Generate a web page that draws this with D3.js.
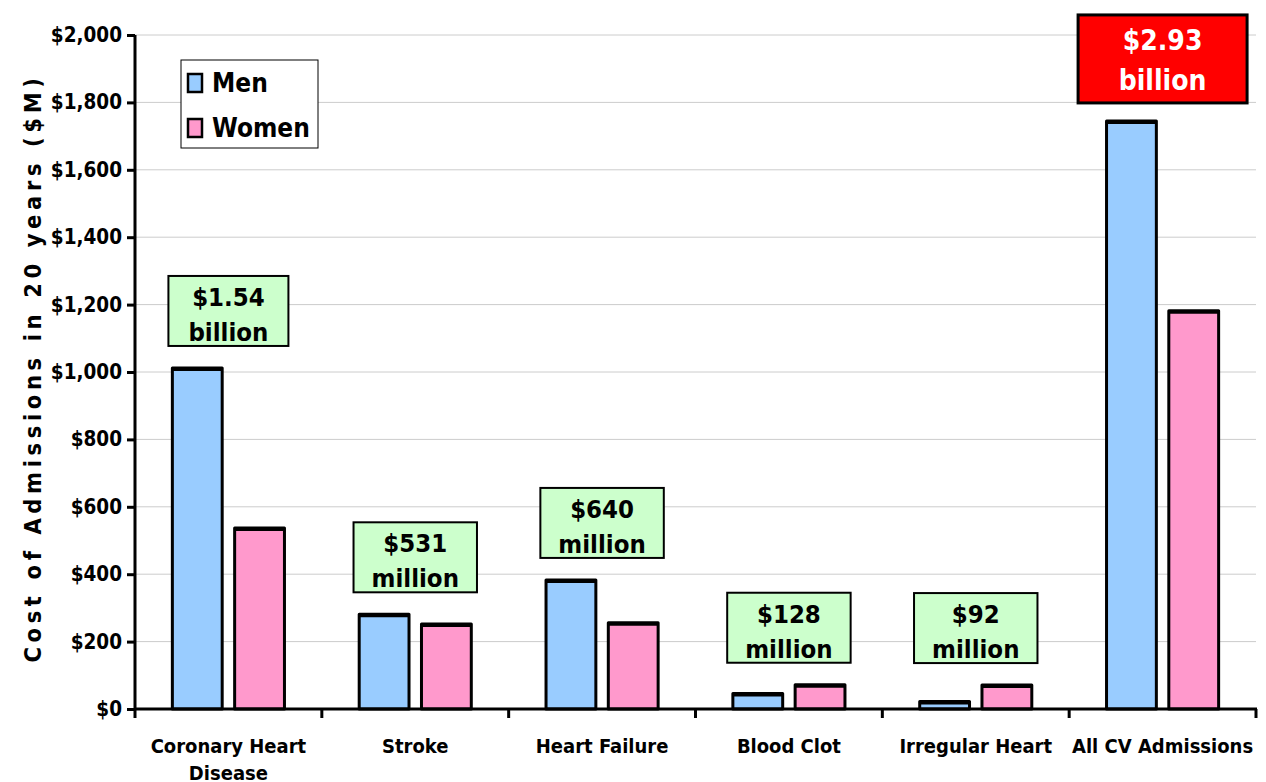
<!DOCTYPE html>
<html>
<head>
<meta charset="utf-8">
<script src="https://cdn.jsdelivr.net/npm/d3@7"></script>
<style>
  body { margin: 0; background: #fff; }
  svg { display: block; }
  text { font-family: "DejaVu Sans Condensed", "DejaVu Sans", sans-serif; font-weight: bold; }
</style>
</head>
<body>
<svg id="chart" width="1266" height="782"></svg>
<script>
// ****** Data
var categories = [["Coronary Heart", "Disease"], ["Stroke"], ["Heart Failure"], ["Blood Clot"], ["Irregular Heart"], ["All CV Admissions"]];
var series = ["Men", "Women"];
var menCost = [1012, 281, 383, 46, 22, 1745];
var womenCost = [537, 252, 256, 72, 71, 1182];
var totalLabels = [["$1.54", "billion"], ["$531", "million"], ["$640", "million"], ["$128", "million"], ["$92", "million"], ["$2.93", "billion"]];
var yTicks = [0, 200, 400, 600, 800, 1000, 1200, 1400, 1600, 1800, 2000];
var yTitle = "Cost of Admissions in 20 years ($M)";

var colors = { Men: "#99ccff", Women: "#ff99cc" };

// ****** Layout
var svg = d3.select("#chart");
var margin = { top: 35, right: 10, bottom: 73, left: 135 };
var W = 1266, H = 782;
var plotRight = 1256;

var x = d3.scaleBand().domain(d3.range(categories.length)).range([margin.left, plotRight]);
var bw = x.bandwidth();
var xs = d3.scaleBand().domain(series).range([bw * 0.2, bw * 0.8]).paddingInner(0.2);
var y = d3.scaleLinear().domain([0, 2000]).range([H - margin.bottom, margin.top]);

// gridlines
svg.append("g").selectAll("line").data(yTicks.slice(1)).join("line")
  .attr("x1", margin.left).attr("x2", plotRight)
  .attr("y1", function(d){ return y(d); }).attr("y2", function(d){ return y(d); })
  .attr("stroke", "#cccccc").attr("stroke-width", 1);

// bars
var rows = categories.map(function(c, i){ return { i: i, Men: menCost[i], Women: womenCost[i] }; });
var groups = svg.append("g").selectAll("g").data(rows).join("g")
  .attr("transform", function(d){ return "translate(" + x(d.i) + ",0)"; });
groups.selectAll("rect").data(function(d){ return series.map(function(s){ return { s: s, v: d[s] }; }); })
  .join("rect")
  .attr("x", function(d){ return xs(d.s); })
  .attr("width", xs.bandwidth())
  .attr("y", function(d){ return y(d.v); })
  .attr("height", function(d){ return y(0) - y(d.v); })
  .attr("fill", function(d){ return colors[d.s]; })
  .attr("stroke", "#000").attr("stroke-width", 3).attr("stroke-linejoin", "round");
// heavier top edge, like the original's
groups.selectAll("line.top").data(function(d){ return series.map(function(s){ return { s: s, v: d[s] }; }); })
  .join("line").attr("class", "top")
  .attr("x1", function(d){ return xs(d.s); })
  .attr("x2", function(d){ return xs(d.s) + xs.bandwidth(); })
  .attr("y1", function(d){ return y(d.v) + 1.5; }).attr("y2", function(d){ return y(d.v) + 1.5; })
  .attr("stroke", "#000").attr("stroke-width", 3);

// axes
var yAxis = svg.append("g").attr("transform", "translate(" + margin.left + ",0)")
  .call(d3.axisLeft(y).tickValues(yTicks).tickSize(8).tickPadding(5)
    .tickFormat(function(d){ return "$" + d3.format(",")(d); }));
yAxis.select(".domain").attr("stroke-width", 3).attr("d", "M0," + (y(0) + 1) + "V" + y(2000));
yAxis.selectAll(".tick line").attr("stroke-width", 3);
yAxis.selectAll(".tick text").style("font-size", "20.5px").attr("fill", "#000");

var xAxis = svg.append("g").attr("transform", "translate(0," + y(0) + ")");
xAxis.append("line").attr("x1", margin.left).attr("x2", plotRight + 1)
  .attr("stroke", "#000").attr("stroke-width", 3);
xAxis.selectAll(".xt").data(d3.range(categories.length + 1)).join("line")
  .attr("class", "xt")
  .attr("x1", function(i){ return margin.left + i * bw; })
  .attr("x2", function(i){ return margin.left + i * bw; })
  .attr("y1", 0).attr("y2", 9).attr("stroke", "#000").attr("stroke-width", 3);
xAxis.selectAll(".xl").data(categories).join("text")
  .attr("class", "xl")
  .attr("x", function(d, i){ return x(i) + bw / 2; })
  .attr("y", 44)
  .attr("text-anchor", "middle").style("font-size", "20px")
  .selectAll("tspan").data(function(d){ return d; }).join("tspan")
  .attr("x", function(){ return d3.select(this.parentNode).attr("x"); })
  .attr("dy", function(d, j){ return j ? 27 : 0; })
  .text(function(d){ return d; });

// y title
svg.append("text")
  .attr("transform", "translate(41," + (y(1000) - 4) + ") rotate(-90)")
  .attr("text-anchor", "middle").style("font-size", "23.5px").style("letter-spacing", "4.6px")
  .text(yTitle);

// annotation boxes
var ann = svg.append("g").selectAll("g").data(totalLabels).join("g");
ann.each(function(lines, i){
  var g = d3.select(this);
  var last = i === categories.length - 1;
  var top = y(Math.max(menCost[i], womenCost[i]));
  var lh = last ? 40 : 35;
  var fs = last ? 28 : 25.5;
  var bottom = top - (last ? 18 : 22);
  var boxH = last ? 88 : 70;
  var cx = x(i) + bw / 2;
  var rect = g.append("rect");
  var t = g.append("text").attr("text-anchor", "middle").style("font-size", fs + "px")
    .attr("fill", last ? "#fff" : "#000");
  t.selectAll("tspan").data(lines).join("tspan")
    .attr("x", cx)
    .attr("y", function(d, j){ return bottom - boxH + (last ? 35 : 30) + j * lh; })
    .text(function(d){ return d; });
  var tw = t.node().getBBox().width;
  var bwid = last ? 169 : Math.max(120, tw + 36);
  rect.attr("x", cx - bwid / 2).attr("y", bottom - boxH).attr("width", bwid).attr("height", boxH)
    .attr("fill", last ? "#ff0000" : "#ccffcc").attr("stroke", "#000").attr("stroke-width", last ? 3 : 2);
});

// legend
var leg = svg.append("g").attr("transform", "translate(181,60)");
leg.append("rect").attr("width", 137).attr("height", 88).attr("fill", "#fff").attr("stroke", "#000").attr("stroke-width", 1);
var li = leg.selectAll("g").data(series).join("g")
  .attr("transform", function(d, i){ return "translate(7," + (14 + i * 45) + ")"; });
li.append("rect").attr("width", 14).attr("height", 18)
  .attr("fill", function(d){ return colors[d]; }).attr("stroke", "#000").attr("stroke-width", 2.5);
li.append("text").attr("x", 24).attr("y", 18).style("font-size", "26px").text(function(d){ return d; });
</script>
</body>
</html>
